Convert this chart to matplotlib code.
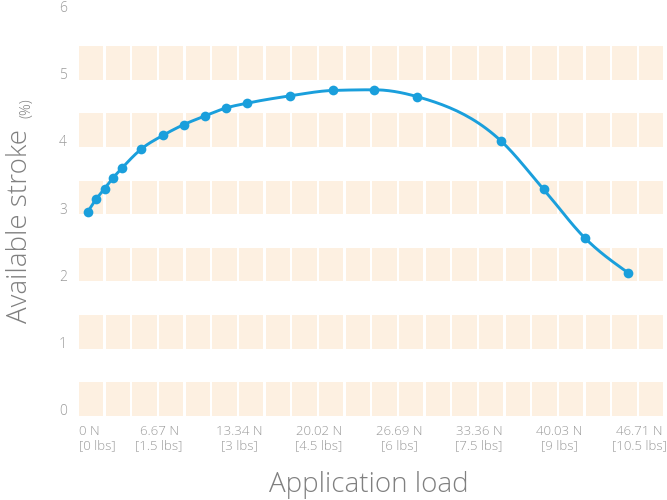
import numpy as np
import matplotlib
matplotlib.use("Agg")
import matplotlib.pyplot as plt
from matplotlib.patches import Rectangle

# ---- data ----
load_lbs = [0.16, 0.32, 0.48, 0.64, 0.80, 1.17, 1.57, 1.96, 2.36, 2.76, 3.15,
            3.96, 4.76, 5.53, 6.33, 7.91, 8.71, 9.49, 10.29]
stroke_pct = [3.03, 3.22, 3.38, 3.54, 3.68, 3.97, 4.17, 4.33, 4.46, 4.58, 4.65,
              4.76, 4.84, 4.85, 4.75, 4.09, 3.37, 2.64, 2.13]
xtick_vals = [0, 1.5, 3, 4.5, 6, 7.5, 9, 10.5]
xtick_labels = ["0 N\n[0 lbs]", "6.67 N\n[1.5 lbs]", "13.34 N\n[3 lbs]", "20.02 N\n[4.5 lbs]",
                "26.69 N\n[6 lbs]", "33.36 N\n[7.5 lbs]", "40.03 N\n[9 lbs]", "46.71 N\n[10.5 lbs]"]
ytick_vals = [0, 1, 2, 3, 4, 5, 6]

FAM = ["Open Sans", "DejaVu Sans"]
plt.rcParams['font.family'] = FAM

BLUE = "#1a9fdc"
BAND = "#fdf0e1"
TICK = "#9a9a9a"
TITLE = "#808080"


def monotone_x(x, y, samples=24):
    x = np.asarray(x, float); y = np.asarray(y, float)
    n = len(x)
    h = np.diff(x); s = np.diff(y) / h
    t = np.zeros(n)
    for i in range(1, n - 1):
        h0, h1, s0, s1 = h[i - 1], h[i], s[i - 1], s[i]
        p = (s0 * h1 + s1 * h0) / (h0 + h1)
        t[i] = (np.sign(s0) + np.sign(s1)) * min(abs(s0), abs(s1), 0.5 * abs(p))
    t[0] = (3 * s[0] - t[1]) / 2
    t[-1] = (3 * s[-1] - t[-2]) / 2
    xs, ys = [], []
    for i in range(n - 1):
        dx = h[i] / 3
        P0 = np.array([x[i], y[i]]); P3 = np.array([x[i + 1], y[i + 1]])
        P1 = np.array([x[i] + dx, y[i] + dx * t[i]])
        P2 = np.array([x[i + 1] - dx, y[i + 1] - dx * t[i + 1]])
        u = np.linspace(0, 1, samples)[:, None]
        B = ((1 - u) ** 3) * P0 + 3 * ((1 - u) ** 2) * u * P1 + 3 * (1 - u) * u ** 2 * P2 + u ** 3 * P3
        xs.extend(B[:, 0]); ys.extend(B[:, 1])
    return np.array(xs), np.array(ys)


fig = plt.figure(figsize=(6.67, 5.0), dpi=100)
W, H = 667, 500
left, right = 79, 665.7
bottom, top = 415.7, 12.5
ax = fig.add_axes([left / W, 1 - bottom / H, (right - left) / W, (bottom - top) / H])
ax.set_xlim(0, 11)
ax.set_ylim(0, 6)

# band cells
cell_w = 0.5
gap = 2.5 / ((right - left) / 11)
for b in range(6):
    for k in range(22):
        ax.add_patch(Rectangle((k * cell_w, b), cell_w - gap, 0.5, facecolor=BAND,
                               edgecolor="none", zorder=0))

lx, ly = monotone_x(load_lbs, stroke_pct)
ax.plot(lx, ly, color=BLUE, lw=2.1, zorder=3, solid_capstyle="round")
ax.plot(load_lbs, stroke_pct, "o", color=BLUE, ms=7, zorder=4, markeredgewidth=0)

for s in ax.spines.values():
    s.set_visible(False)
ax.set_xticks([])
ax.set_yticks([])

# y tick labels
for v in ytick_vals:
    ax.annotate(str(v), xy=(0, v), xycoords="data", xytext=(-16, 4), textcoords="offset pixels",
                ha="center", va="center", color=TICK, fontsize=10, fontweight="light")

# x tick labels
for i, (v, lab) in enumerate(zip(xtick_vals, xtick_labels)):
    ha = "left" if i == 0 else "center"
    ax.annotate(lab, xy=(v, 0), xycoords="data", xytext=(0, -9), textcoords="offset pixels",
                ha=ha, va="top", color=TICK, fontsize=9.5, fontweight="light",
                multialignment=ha, linespacing=1.2)

# axis titles
fig.text((270 + 467) / 2 / W, 1 - 485 / H, "Application load", ha="center", va="center",
         color=TITLE, fontsize=20, fontweight="light")
fig.text(20 / W, 1 - 323 / H, "Available stroke", rotation=90, ha="center", va="bottom",
         color=TITLE, fontsize=20, fontweight="light")
fig.text(27 / W, 1 - 118 / H, "(%)", rotation=90, ha="center", va="bottom",
         color=TITLE, fontsize=10.5, fontweight="light")

fig.savefig("out.png", dpi=100)
